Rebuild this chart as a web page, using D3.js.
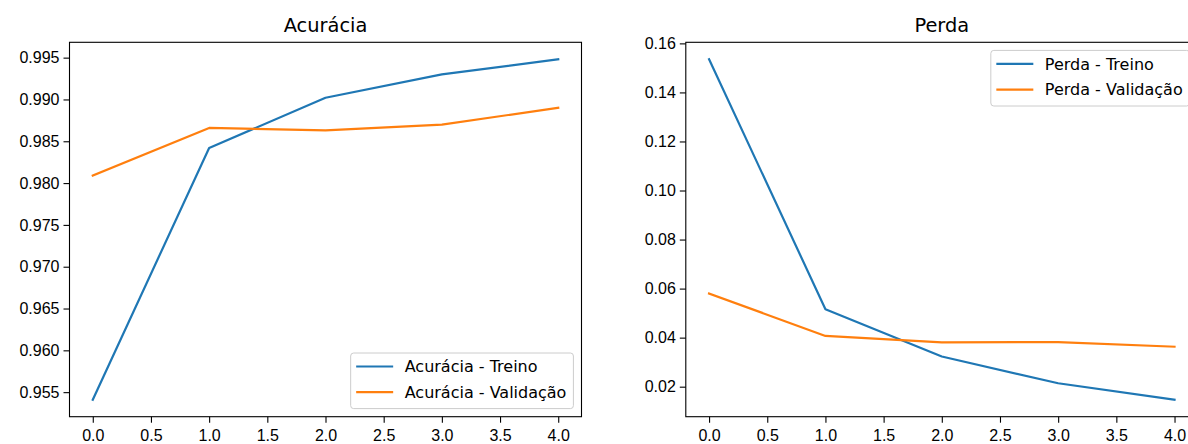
<!DOCTYPE html>
<html>
<head>
<meta charset="utf-8">
<script src="https://cdn.jsdelivr.net/npm/d3@7"></script>
<style>
  body { margin: 0; background: #fff; }
  svg { font-family: "DejaVu Sans", sans-serif; }
  .axis text { font-size: 16px; fill: #000; }
  .axis line { stroke: #000; stroke-width: 1.1; }
  .title { font-size: 19.4px; fill: #000; }
  .legend text { font-size: 16px; fill: #000; }
  .line { fill: none; stroke-width: 2.2; stroke-linejoin: round; stroke-linecap: square; }
</style>
</head>
<body>
<div id="chart"></div>
<script>
// epochs and history values
var epochs = [0, 1, 2, 3, 4];
var accTrain = [0.9541, 0.9842, 0.9902, 0.9930, 0.9948];
var accVal = [0.9809, 0.9866, 0.9863, 0.9870, 0.9890];
var lossTrain = [0.1535, 0.0516, 0.0323, 0.0214, 0.0147];
var lossVal = [0.0580, 0.0407, 0.0381, 0.0382, 0.0363];

var xTicks = [0, 0.5, 1, 1.5, 2, 2.5, 3, 3.5, 4];
var accTicks = [0.955, 0.960, 0.965, 0.970, 0.975, 0.980, 0.985, 0.990, 0.995];
var lossTicks = [0.02, 0.04, 0.06, 0.08, 0.10, 0.12, 0.14, 0.16];

var blue = "#1f77b4", orange = "#ff7f0e";

var svg = d3.select("#chart").append("svg")
    .attr("width", 1188)
    .attr("height", 444);

class Panel {
  constructor(opts) {
    this.opts = opts;
    this.g = svg.append("g")
        .attr("transform", "translate(" + opts.left + "," + opts.top + ")");
    this.initScales();
    this.addAxes();
    this.plotLines();
    this.addFrame();
    this.addTitle();
    this.addLegend();
  }
  // matplotlib style 5% margins around the data
  initScales() {
    var o = this.opts;
    var xMin = d3.min(epochs), xMax = d3.max(epochs);
    var xPad = (xMax - xMin) * 0.05;
    this.x = d3.scaleLinear().domain([xMin - xPad, xMax + xPad]).range([0, o.width]);
    var all = o.series[0].values.concat(o.series[1].values);
    var yMin = d3.min(all), yMax = d3.max(all);
    var yPad = (yMax - yMin) * 0.05;
    this.y = d3.scaleLinear().domain([yMin - yPad, yMax + yPad]).range([o.height, 0]);
  }
  addAxes() {
    var o = this.opts;
    var xa = this.g.append("g")
        .attr("class", "axis")
        .attr("transform", "translate(0," + o.height + ")")
        .call(d3.axisBottom(this.x).tickValues(xTicks).tickFormat(d3.format(".1f"))
          .tickSize(6).tickPadding(7).tickSizeOuter(0));
    xa.select(".domain").remove();
    var ya = this.g.append("g")
        .attr("class", "axis")
        .call(d3.axisLeft(this.y).tickValues(o.yTicks).tickFormat(d3.format(o.yFormat))
          .tickSize(6).tickPadding(4).tickSizeOuter(0));
    ya.select(".domain").remove();
    this.g.selectAll(".axis text").attr("font-family", null);
  }
  plotLines() {
    var x = this.x, y = this.y;
    var line = d3.line()
        .x(function(d, i) { return x(epochs[i]); })
        .y(function(d) { return y(d); });
    this.g.selectAll(".line").data(this.opts.series)
      .enter().append("path")
        .attr("class", "line")
        .attr("stroke", function(d) { return d.color; })
        .attr("d", function(d) { return line(d.values); });
  }
  addFrame() {
    this.g.append("rect")
      .attr("width", this.opts.width)
      .attr("height", this.opts.height)
      .attr("fill", "none")
      .attr("stroke", "#000")
      .attr("stroke-width", 1.1);
  }
  addTitle() {
    this.g.append("text")
      .attr("class", "title")
      .attr("x", this.opts.width / 2)
      .attr("y", -10.5)
      .attr("text-anchor", "middle")
      .text(this.opts.title);
  }
  addLegend() {
    var o = this.opts;
    var pad = 5.5, handle = 37, gap = 11.5, rowH = 25.7, boxH = 55.6, inset = 8.1;
    var lg = this.g.append("g").attr("class", "legend");
    var frame = lg.append("rect")
      .attr("rx", 3).attr("ry", 3)
      .attr("fill", "#fff").attr("fill-opacity", 0.8)
      .attr("stroke", "#cccccc").attr("stroke-width", 1);
    var items = lg.selectAll(".legend-item").data(o.series)
      .enter().append("g")
        .attr("class", "legend-item")
        .attr("transform", function(d, i) { return "translate(0," + (13.5 + i * rowH) + ")"; });
    items.append("line")
      .attr("x1", pad).attr("x2", pad + handle)
      .attr("stroke", function(d) { return d.color; })
      .attr("stroke-width", 2.2);
    items.append("text")
      .attr("x", pad + handle + gap)
      .attr("dy", "0.36em")
      .text(function(d) { return d.name; });
    var textW = d3.max(items.nodes(), function(n) { return n.querySelector("text").getBBox().width; });
    var boxW = pad + handle + gap + textW + 7;
    frame.attr("width", boxW).attr("height", boxH);
    var lx = o.width - inset - boxW;
    var ly = o.legendPos === "lower" ? o.height - inset - boxH : inset;
    lg.attr("transform", "translate(" + lx + "," + ly + ")");
  }
}

new Panel({
  left: 69.5, top: 42.3, width: 512, height: 374.4,
  title: "Acurácia",
  yTicks: accTicks, yFormat: ".3f",
  legendPos: "lower",
  series: [
    { name: "Acurácia - Treino", values: accTrain, color: blue },
    { name: "Acurácia - Validação", values: accVal, color: orange }
  ]
});

new Panel({
  left: 685.8, top: 42.3, width: 512, height: 374.4,
  title: "Perda",
  yTicks: lossTicks, yFormat: ".2f",
  legendPos: "upper",
  series: [
    { name: "Perda - Treino", values: lossTrain, color: blue },
    { name: "Perda - Validação", values: lossVal, color: orange }
  ]
});
</script>
</body>
</html>
